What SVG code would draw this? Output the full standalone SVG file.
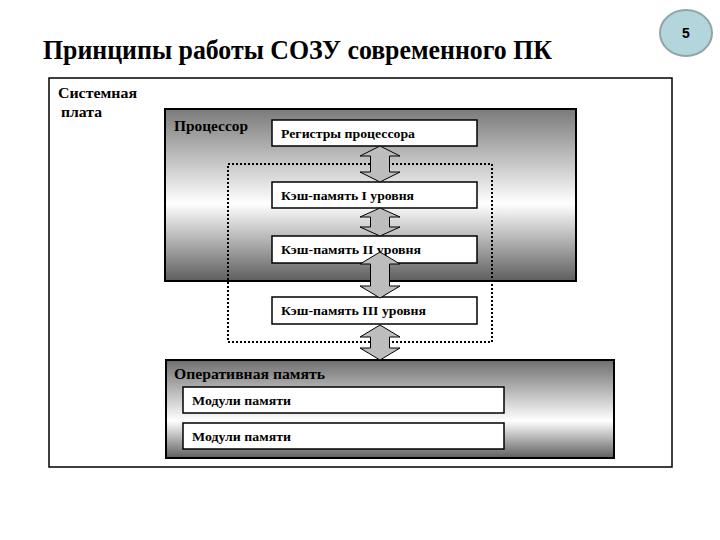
<svg xmlns="http://www.w3.org/2000/svg" width="720" height="540" viewBox="0 0 720 540">
<style>
.t{font-family:"Liberation Serif","Times New Roman",serif;font-weight:bold;fill:#000}
.box{fill:#fff;stroke:#000;stroke-width:1.5}
.arr{fill:#bdbdbd;stroke:#000;stroke-width:1}
.grp{stroke:#000;stroke-width:2}
</style>
<defs>
<linearGradient id="gP" x1="0" y1="0" x2="0" y2="1">
<stop offset="0" stop-color="#7a7a7a"/>
<stop offset="0.55" stop-color="#ffffff"/>
<stop offset="1" stop-color="#5e5e5e"/>
</linearGradient>
<linearGradient id="gR" x1="0" y1="0" x2="0" y2="1">
<stop offset="0" stop-color="#6e6e6e"/>
<stop offset="0.62" stop-color="#ffffff"/>
<stop offset="1" stop-color="#5e5e5e"/>
</linearGradient>
</defs>
<rect width="720" height="540" fill="#fff"/>
<text class="t" x="43" y="59" font-size="28" textLength="509" lengthAdjust="spacingAndGlyphs">Принципы работы СОЗУ современного ПК</text>
<g id="page">
<ellipse cx="686" cy="33" rx="26" ry="23" fill="#b3d5dc" stroke="#8fa5a8" stroke-width="2"/>
<text x="686" y="38" font-family="Liberation Sans,Arial,sans-serif" font-weight="bold" font-size="14" text-anchor="middle">5</text>
</g>
<g id="board">
<rect x="49" y="78" width="623" height="389" fill="#fff" stroke="#000" stroke-width="1.5"/>
<text class="t" x="58" y="98" font-size="15" textLength="79" lengthAdjust="spacingAndGlyphs">Системная</text>
<text class="t" x="61" y="117" font-size="15" textLength="41" lengthAdjust="spacingAndGlyphs">плата</text>
</g>
<g id="cpu">
<rect class="grp" x="165" y="109" width="411" height="172" fill="url(#gP)"/>
<text class="t" x="174" y="131" font-size="15" textLength="74" lengthAdjust="spacingAndGlyphs">Процессор</text>
</g>
<g id="cache-group">
<rect x="228" y="164" width="264" height="178" fill="none" stroke="#000" stroke-width="2" stroke-dasharray="2,2"/>
</g>
<g id="regs">
<rect class="box" x="272" y="120" width="205" height="26"/>
<text class="t" x="281" y="138" font-size="13" textLength="134" lengthAdjust="spacingAndGlyphs">Регистры процессора</text>
</g>
<g id="l1">
<rect class="box" x="272" y="182" width="205" height="26"/>
<text class="t" x="281" y="200" font-size="13" textLength="133" lengthAdjust="spacingAndGlyphs">Кэш-память I уровня</text>
</g>
<g id="l2">
<rect class="box" x="272" y="236" width="205" height="27"/>
<text class="t" x="281" y="254" font-size="13" textLength="140" lengthAdjust="spacingAndGlyphs">Кэш-память II уровня</text>
</g>
<g id="l3">
<rect class="box" x="272" y="297" width="205" height="27"/>
<text class="t" x="281" y="315" font-size="13" textLength="145" lengthAdjust="spacingAndGlyphs">Кэш-память III уровня</text>
</g>
<g id="ram">
<rect class="grp" x="166" y="360" width="448" height="98" fill="url(#gR)"/>
<text class="t" x="174" y="379" font-size="15" textLength="151" lengthAdjust="spacingAndGlyphs">Оперативная память</text>
</g>
<g id="mod1">
<rect class="box" x="183" y="387" width="321" height="26"/>
<text class="t" x="192" y="405" font-size="13" textLength="99" lengthAdjust="spacingAndGlyphs">Модули памяти</text>
</g>
<g id="mod2">
<rect class="box" x="183" y="423" width="321" height="26"/>
<text class="t" x="192" y="441" font-size="13" textLength="99" lengthAdjust="spacingAndGlyphs">Модули памяти</text>
</g>
<g id="connectors">
<path class="arr" d="M380,146 L400,156 L389.5,156 L389.5,172 L400,172 L380,182 L360,172 L370.5,172 L370.5,156 L360,156 Z"/>
<path class="arr" d="M380,208 L400,217 L389.5,217 L389.5,227 L400,227 L380,236 L360,227 L370.5,227 L370.5,217 L360,217 Z"/>
<path class="arr" d="M380,252 L400,264 L389.5,264 L389.5,286 L400,286 L380,298 L360,286 L370.5,286 L370.5,264 L360,264 Z"/>
<path class="arr" d="M380,325 L400,337 L389.5,337 L389.5,348 L400,348 L380,360 L360,348 L370.5,348 L370.5,337 L360,337 Z"/>
</g>
</svg>
